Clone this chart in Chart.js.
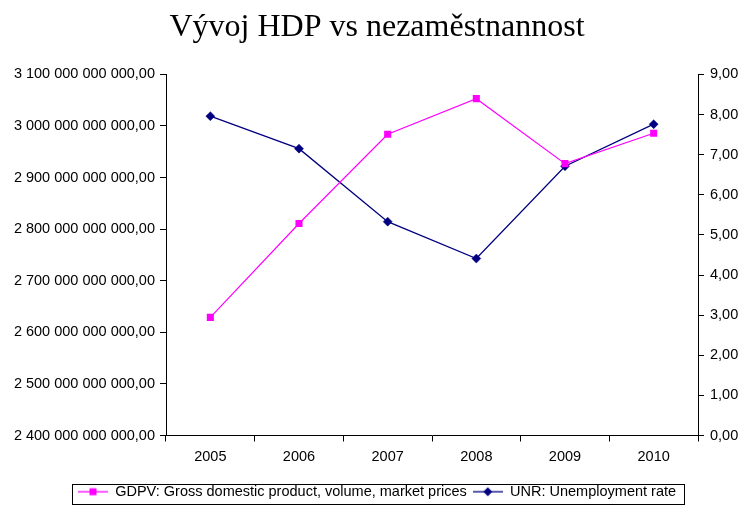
<!DOCTYPE html>
<html>
<head>
<meta charset="utf-8">
<script src="https://cdn.jsdelivr.net/npm/chart.js@4/dist/chart.umd.min.js"></script>
<style>
  html, body { margin: 0; padding: 0; background: #fff; }
  #wrap { width: 742px; height: 505px; }
</style>
</head>
<body>
<div id="wrap"><canvas id="gdpChart"></canvas></div>
<script>
const years = ['2005', '2006', '2007', '2008', '2009', '2010'];
const gdpv = [2.629e12, 2.811e12, 2.984e12, 3.053e12, 2.927e12, 2.986e12];
const unr = [7.96, 7.15, 5.33, 4.41, 6.71, 7.76];
const gdpLabel = 'GDPV: Gross domestic product, volume, market prices';
const unrLabel = 'UNR: Unemployment rate';

// cislo ve formatu 3 100 000 000 000,00
function czNum(v) {
  const parts = Math.abs(v).toFixed(2).split('.');
  return parts[0].replace(/\B(?=(\d{3})+(?!\d))/g, ' ') + ',' + parts[1];
}

// ikonka do legendy: cara se znackou uprostred
function legendIcon(color, shape) {
  const c = document.createElement('canvas');
  c.width = 30; c.height = 12;
  const g = c.getContext('2d');
  g.strokeStyle = color; g.fillStyle = color; g.lineWidth = 1.3;
  g.beginPath(); g.moveTo(0, 6); g.lineTo(30, 6); g.stroke();
  g.beginPath();
  if (shape === 'rect') {
    g.rect(11.5, 2.5, 7, 7);
  } else {
    g.moveTo(15, 1.5); g.lineTo(19.5, 6); g.lineTo(15, 10.5); g.lineTo(10.5, 6);
    g.closePath();
  }
  g.fill();
  return c;
}

const legendBorder = {
  id: 'legendBorder',
  afterDraw(chart) {
    const boxes = chart.legend.legendHitBoxes;
    if (!boxes || !boxes.length) return;
    let l = Infinity, r = -Infinity, t = Infinity, b = -Infinity;
    boxes.forEach(h => {
      l = Math.min(l, h.left); r = Math.max(r, h.left + h.width);
      t = Math.min(t, h.top); b = Math.max(b, h.top + h.height);
    });
    const ctx = chart.ctx;
    ctx.save();
    ctx.strokeStyle = '#000';
    ctx.lineWidth = 1;
    ctx.strokeRect(Math.round(l - 6) + 0.5, Math.round(t - 1) + 0.5, Math.round(r - l + 14), Math.round(b - t + 5));
    ctx.restore();
  }
};

const axisFont = { family: 'Liberation Sans', size: 14.5 };

new Chart(document.getElementById('gdpChart').getContext('2d'), {
  type: 'line',
  data: {
    labels: years,
    datasets: [{
      label: gdpLabel,
      data: gdpv,
      yAxisID: 'y',
      borderColor: '#ff00ff',
      backgroundColor: '#ff00ff',
      borderWidth: 1.2,
      pointStyle: 'rect',
      pointRadius: 5,
      pointBorderWidth: 0,
      tension: 0
    }, {
      label: unrLabel,
      data: unr,
      yAxisID: 'y1',
      borderColor: '#000080',
      backgroundColor: '#000080',
      borderWidth: 1.3,
      pointStyle: 'rectRot',
      pointRadius: 4.5,
      pointBorderWidth: 0.5,
      tension: 0
    }]
  },
  options: {
    responsive: true,
    maintainAspectRatio: false,
    animation: false,
    layout: { padding: { left: 12, right: 0, top: 0, bottom: -4 } },
    plugins: {
      title: {
        display: true,
        text: 'Vývoj HDP vs nezaměstnannost',
        color: '#000',
        font: { family: 'Liberation Serif', size: 32, weight: 'normal' },
        padding: { top: 8, bottom: 28 }
      },
      legend: {
        position: 'bottom',
        labels: {
          color: '#000',
          font: axisFont,
          usePointStyle: true,
          pointStyleWidth: 30,
          padding: 6,
          generateLabels(chart) {
            return chart.data.datasets.map((ds, i) => ({
              text: ds.label,
              pointStyle: legendIcon(ds.borderColor, i === 0 ? 'rect' : 'diamond'),
              datasetIndex: i,
              lineWidth: 0,
              hidden: false
            }));
          }
        }
      },
      tooltip: { enabled: false }
    },
    scales: {
      x: {
        offset: true,
        grid: { offset: true, drawOnChartArea: false, color: '#000', tickLength: 6 },
        border: { color: '#000' },
        ticks: { color: '#000', font: axisFont, padding: 7 },
        afterFit(scale) { scale.height = 43; }
      },
      y: {
        position: 'left',
        min: 2.4e12,
        max: 3.1e12,
        grid: { drawOnChartArea: false, color: '#000', tickLength: 6 },
        border: { color: '#000' },
        ticks: { stepSize: 1e11, color: '#000', font: axisFont, padding: 5, callback: v => czNum(v) },
        afterFit(scale) { scale.width = 154; }
      },
      y1: {
        position: 'right',
        min: 0,
        max: 9,
        grid: { drawOnChartArea: false, color: '#000', tickLength: 6 },
        border: { color: '#000' },
        ticks: { stepSize: 1, color: '#000', font: axisFont, padding: 6, callback: v => czNum(v) },
        afterFit(scale) { scale.width = 44; }
      }
    }
  },
  plugins: [legendBorder]
});
</script>
</body>
</html>
